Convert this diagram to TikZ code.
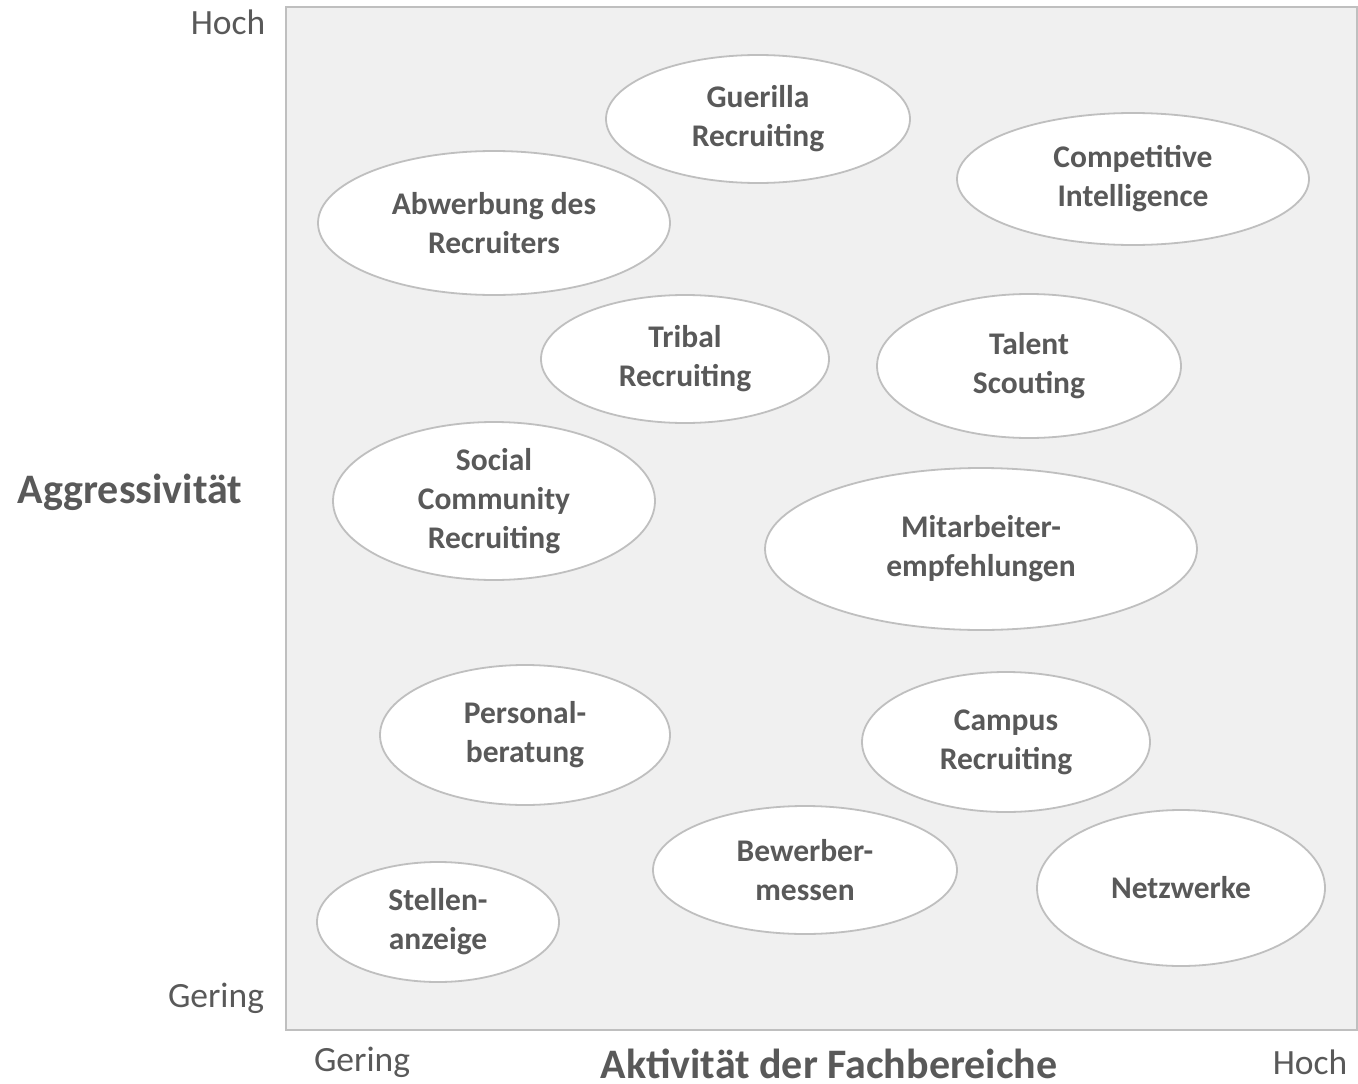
\documentclass[tikz,border=0pt]{standalone}
\usepackage{fontspec}
\setmainfont{Carlito}
\usetikzlibrary{shapes.geometric}
\definecolor{txt}{HTML}{595959}
\definecolor{bg}{HTML}{F0F0F0}
\definecolor{edge}{HTML}{BFBFBF}
\begin{document}
\begin{tikzpicture}[x=1pt,y=-1pt,
  ell/.style={ellipse, draw=edge, line width=1.8pt, fill=white, inner sep=0pt, align=center,
    text=txt, font=\fontsize{31.5}{39}\selectfont\bfseries},
  axlab/.style={text=txt, font=\fontsize{35.5}{42}\selectfont, inner sep=0pt},
  title/.style={text=txt, font=\fontsize{42}{50}\selectfont\bfseries, inner sep=0pt}]
\useasboundingbox (0,0) rectangle (1358,1084);
\draw[edge, fill=bg, line width=1.8pt] (286,7) rectangle (1357,1030);
\node[ell, minimum width=304, minimum height=128] (guer) at (758,119) {Guerilla\\Recruiting};
\node[ell, minimum width=352, minimum height=132] (comp) at (1133,179) {Competitive\\Intelligence};
\node[ell, minimum width=352, minimum height=144] (abw) at (494,223) {Abwerbung des\\Recruiters};
\node[ell, minimum width=288, minimum height=128] (trib) at (685,359) {Tribal\\Recruiting};
\node[ell, minimum width=304, minimum height=144] (tal) at (1029,366) {Talent\\Scouting};
\node[ell, minimum width=322, minimum height=158] (soc) at (494,501) {Social\\Community\\Recruiting};
\node[ell, minimum width=432, minimum height=162] (mit) at (981,549) {Mitarbeiter-\\empfehlungen};
\node[ell, minimum width=290, minimum height=140] (pers) at (525,735) {Personal-\\beratung};
\node[ell, minimum width=288, minimum height=140] (camp) at (1006,742) {Campus\\Recruiting};
\node[ell, minimum width=304, minimum height=128] (bew) at (805,870) {Bewerber-\\messen};
\node[ell, minimum width=288, minimum height=156] (netz) at (1181,888) {Netzwerke};
\node[ell, minimum width=242, minimum height=120] (stel) at (438,922) {Stellen-\\anzeige};
\node[axlab] (yhi) at (228,22) {Hoch};
\node[axlab] (ylo) at (216,998) {Gering};
\node[axlab] (xlo) at (362,1062) {Gering};
\node[axlab] (xhi) at (1310,1062) {Hoch};
\node[title] (ytit) at (130,492) {Aggressivität};
\node[title] (xtit) at (829,1064) {Aktivität der Fachbereiche};
\end{tikzpicture}
\end{document}
